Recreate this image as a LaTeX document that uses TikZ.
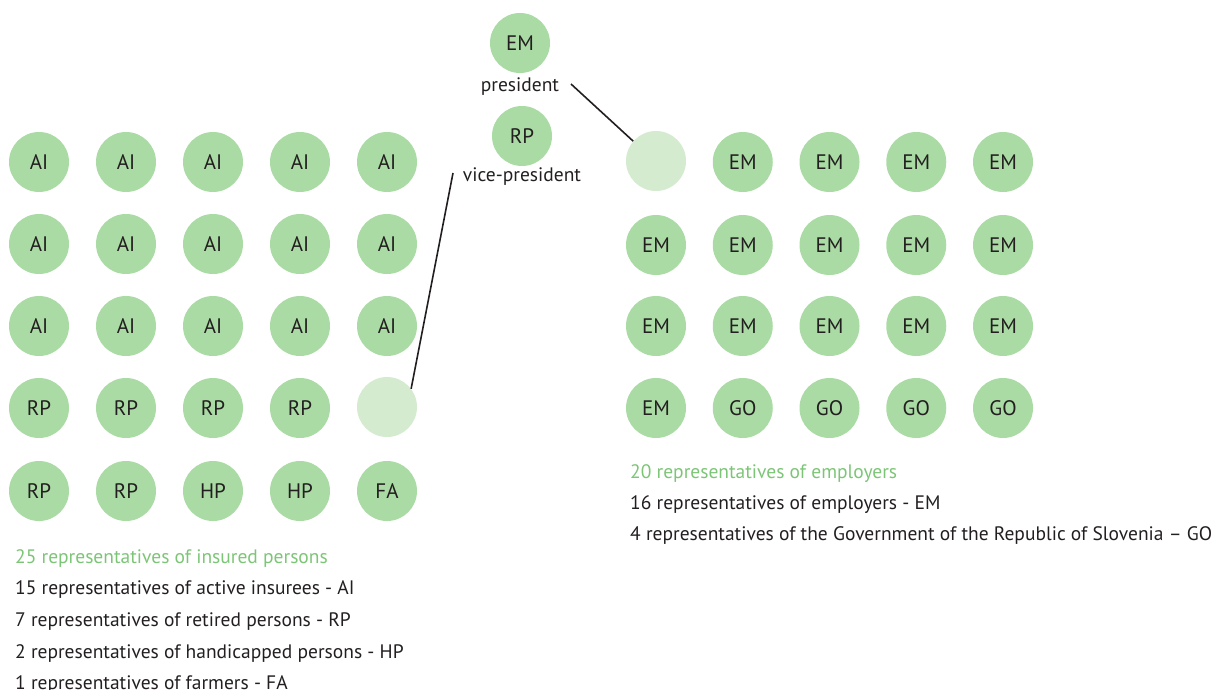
\documentclass[tikz,border=0pt]{standalone}
\usepackage{fontspec}
\setmainfont{PT Sans}
\definecolor{cfill}{HTML}{AADBA4}
\definecolor{clight}{HTML}{D4EBD0}
\definecolor{cgreen}{HTML}{7CC576}
\definecolor{ctext}{HTML}{231F20}
\tikzset{
  member/.style={circle, fill=cfill, minimum size=60pt, inner sep=0pt, text=ctext, font=\fontsize{21}{24}\selectfont},
  vacant/.style={circle, fill=clight, minimum size=60pt, inner sep=0pt},
  role/.style={text=ctext, font=\fontsize{19.5}{22}\selectfont, inner sep=0pt},
  legend/.style={anchor=base west, text=ctext, font=\fontsize{19.5}{22}\selectfont, inner sep=0pt},
  legendhead/.style={legend, text=cgreen},
  link/.style={draw=ctext, line width=1.6pt}
}
\begin{document}
\begin{tikzpicture}[x=1pt,y=-1pt]
\useasboundingbox (0,0) rectangle (1222,689);
% top
\node[member] (pres) at (520,43) {EM};
\node[role] (preslbl) at (520,87) {president};
\node[member] (vice) at (522,136) {RP};
\node[role] (vicelbl) at (522,177) {vice-president};
% left grid
\foreach \t [count=\i from 0] in {AI,AI,AI,AI,AI}
  \node[member] (L1\i) at (39+87*\i,162) {\t};
\foreach \t [count=\i from 0] in {AI,AI,AI,AI,AI}
  \node[member] (L2\i) at (39+87*\i,244) {\t};
\foreach \t [count=\i from 0] in {AI,AI,AI,AI,AI}
  \node[member] (L3\i) at (39+87*\i,326) {\t};
\foreach \t [count=\i from 0] in {RP,RP,RP,RP}
  \node[member] (L4\i) at (39+87*\i,408) {\t};
\node[vacant] (L44) at (387,407) {};
\foreach \t [count=\i from 0] in {RP,RP,HP,HP,FA}
  \node[member] (L5\i) at (39+87*\i,491) {\t};
% right grid
\node[vacant] (R10) at (656,161) {};
\foreach \t [count=\i from 1] in {EM,EM,EM,EM}
  \node[member] (R1\i) at (656+86.75*\i,162) {\t};
\foreach \t [count=\i from 0] in {EM,EM,EM,EM,EM}
  \node[member] (R2\i) at (656+86.75*\i,245) {\t};
\foreach \t [count=\i from 0] in {EM,EM,EM,EM,EM}
  \node[member] (R3\i) at (656+86.75*\i,326) {\t};
\foreach \t [count=\i from 0] in {EM,GO,GO,GO,GO}
  \node[member] (R4\i) at (656+86.75*\i,408) {\t};
% links
\coordinate (presend) at (571,84);
\coordinate (viceend) at (453,173);
\draw[link] (presend) -- (R10.139);
\draw[link] (viceend) -- (L44.37);
% legends
\node[legendhead] (lh) at (15,563) {25 representatives of insured persons};
\node[legend] (l1) at (15,594.5) {15 representatives of active insurees - AI};
\node[legend] (l2) at (15,626) {7 representatives of retired persons - RP};
\node[legend] (l3) at (15,658) {2 representatives of handicapped persons - HP};
\node[legend] (l4) at (15,689) {1 representatives of farmers - FA};
\node[legendhead] (rh) at (630,478) {20 representatives of employers};
\node[legend] (r1) at (630,509) {16 representatives of employers - EM};
\node[legend] (r2) at (630,540) {4 representatives of the Government of the Republic of Slovenia – GO};
\end{tikzpicture}
\end{document}
